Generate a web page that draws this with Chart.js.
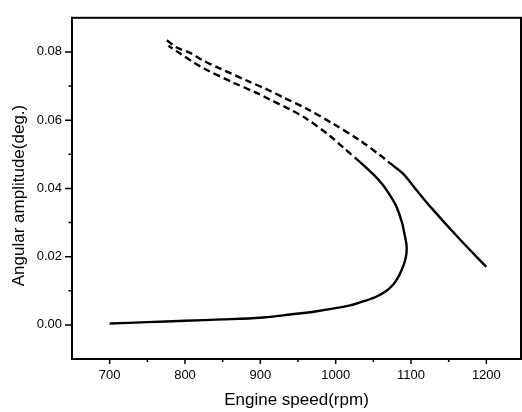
<!DOCTYPE html>
<html>
<head>
<meta charset="utf-8">
<script src="https://cdn.jsdelivr.net/npm/chart.js@4.4.0/dist/chart.umd.min.js"></script>
<style>
  html, body { margin: 0; padding: 0; background: #fff; }
  #wrap { width: 522px; height: 412px; }
</style>
</head>
<body>
<div id="wrap"><canvas id="c" width="522" height="412"></canvas></div>
<script>
// ---- data ----
const lowerX = [700, 750, 800, 850, 900, 930, 975, 1019, 1041, 1055, 1068, 1077, 1083, 1088, 1092, 1094, 1094, 1092, 1088, 1081, 1072, 1062, 1050, 1032, 1010, 993, 962, 939, 913, 895, 864, 829, 811, 793, 778];
const lowerY = [0.0004, 0.0008, 0.0012, 0.0016, 0.0021, 0.0028, 0.0040, 0.0057, 0.0072, 0.0084, 0.0101, 0.0120, 0.0140, 0.0163, 0.0188, 0.0210, 0.0235, 0.0259, 0.0300, 0.0345, 0.0380, 0.0412, 0.0441, 0.0478, 0.0520, 0.0553, 0.0603, 0.0632, 0.0660, 0.0680, 0.0710, 0.0747, 0.0770, 0.0796, 0.0818];
const upperX = [776, 789, 807, 824, 846, 886, 908, 932, 962, 997, 1032, 1059, 1072, 1090, 1108, 1127, 1166, 1200];
const upperY = [0.0834, 0.0813, 0.0797, 0.0775, 0.0752, 0.0712, 0.0691, 0.0665, 0.0633, 0.0589, 0.0541, 0.0497, 0.0474, 0.0442, 0.0393, 0.0343, 0.0248, 0.0170];

const xMajorTicks = [700, 800, 900, 1000, 1100, 1200];
const xMinorTicks = [750, 850, 950, 1050, 1150];
const yMajorTicks = [0.00, 0.02, 0.04, 0.06, 0.08];
const yMinorTicks = [0.01, 0.03, 0.05, 0.07];

const xTitle = 'Engine speed(rpm)';
const yTitle = 'Angular amplitude(deg.)';

function pts(xs, ys) { return xs.map((x, i) => ({ x: x, y: ys[i] })); }

const dashSeg = {
  borderDash: ctx => (ctx.p0.parsed.y > 0.046 && ctx.p1.parsed.y > 0.046) ? [7, 4] : undefined
};

const frame = {
  id: 'frame',
  afterDraw(chart) {
    const { ctx, chartArea: a, scales } = chart;
    ctx.save();
    ctx.strokeStyle = '#000';
    ctx.lineWidth = 2;
    ctx.strokeRect(a.left, a.top, a.right - a.left, a.bottom - a.top);
    ctx.lineWidth = 1.5;
    ctx.beginPath();
    yMajorTicks.forEach(v => { const p = scales.y.getPixelForValue(v); ctx.moveTo(a.left - 7, p); ctx.lineTo(a.left, p); });
    yMinorTicks.forEach(v => { const p = scales.y.getPixelForValue(v); ctx.moveTo(a.left - 3.5, p); ctx.lineTo(a.left, p); });
    xMajorTicks.forEach(v => { const p = scales.x.getPixelForValue(v); ctx.moveTo(p, a.bottom); ctx.lineTo(p, a.bottom + 5); });
    xMinorTicks.forEach(v => { const p = scales.x.getPixelForValue(v); ctx.moveTo(p, a.bottom); ctx.lineTo(p, a.bottom + 3); });
    ctx.stroke();
    // y axis title
    ctx.fillStyle = '#000';
    ctx.font = '17px "Liberation Sans", Arial, sans-serif';
    ctx.textAlign = 'center';
    ctx.textBaseline = 'middle';
    ctx.translate(19.5, 195.5);
    ctx.rotate(-Math.PI / 2);
    ctx.fillText(yTitle, 0, 0);
    ctx.restore();
  }
};

new Chart(document.getElementById('c'), {
  type: 'scatter',
  data: {
    datasets: [
      { data: pts(lowerX, lowerY), showLine: true, borderColor: '#000', backgroundColor: '#000', borderWidth: 2.4, pointRadius: 0, tension: 0.3, segment: dashSeg },
      { data: pts(upperX, upperY), showLine: true, borderColor: '#000', backgroundColor: '#000', borderWidth: 2.4, pointRadius: 0, tension: 0.3, segment: dashSeg }
    ]
  },
  options: {
    responsive: false,
    animation: false,
    devicePixelRatio: 1,
    layout: { padding: { left: 0, top: 10, right: 1, bottom: 0 } },
    plugins: { legend: { display: false }, tooltip: { enabled: false } },
    scales: {
      x: {
        type: 'linear', min: 650, max: 1246,
        afterFit: s => { s.height = 53; },
        afterBuildTicks: s => { s.ticks = xMajorTicks.map(v => ({ value: v })); },
        grid: { display: false, drawTicks: false },
        border: { display: false },
        ticks: { color: '#000', padding: 9, font: { family: '"Liberation Sans", Arial, sans-serif', size: 13 }, callback: v => String(v) },
        title: { display: true, text: xTitle, color: '#000', font: { family: '"Liberation Sans", Arial, sans-serif', size: 17 }, padding: { top: 0, bottom: 1 } }
      },
      y: {
        type: 'linear', min: -0.01, max: 0.09,
        afterFit: s => { s.width = 72; },
        afterBuildTicks: s => { s.ticks = yMajorTicks.map(v => ({ value: v })); },
        grid: { display: false, drawTicks: false },
        border: { display: false },
        ticks: { color: '#000', padding: 10, font: { family: '"Liberation Sans", Arial, sans-serif', size: 13 }, callback: v => Number(v).toFixed(2) }
      }
    }
  },
  plugins: [frame]
});
</script>
</body>
</html>
